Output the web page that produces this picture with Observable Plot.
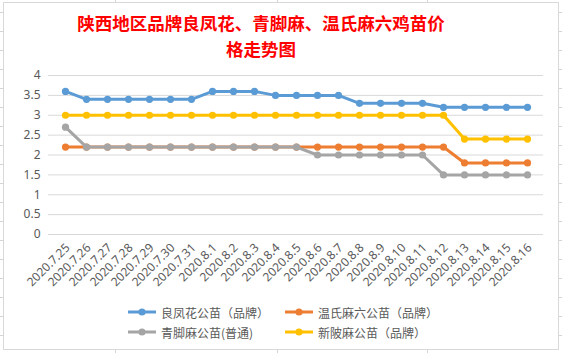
<!DOCTYPE html>
<html>
<head>
<meta charset="utf-8">
<script src="https://cdn.jsdelivr.net/npm/d3@7"></script>
<script src="https://cdn.jsdelivr.net/npm/@observablehq/plot@0.6"></script>
<style>
  html, body { margin: 0; padding: 0; }
  body {
    width: 562px; height: 353px; position: relative; overflow: hidden;
    background-color: #fff;
    background-image: repeating-linear-gradient(to bottom, transparent 0, transparent 12px, #d4d4d4 12px, #d4d4d4 13px, transparent 13px, transparent 19px);
    font-family: "Noto Sans CJK SC", "Noto Sans", sans-serif;
  }
  .vline { position: absolute; top: 0; width: 1px; height: 353px; background: #d4d4d4; }
  #frame {
    position: absolute; left: 3px; top: 2px; width: 556px; height: 348px;
    box-sizing: border-box; border: 1px solid #d9d9d9; background: #fff;
  }
  #wrap { position: absolute; left: 0; top: 0; width: 562px; }
  #title {
    width: 522px; height: 62px; box-sizing: border-box; padding-top: 10px;
    text-align: center; color: #ff0000; font-weight: bold; font-size: 17.5px;
    font-family: "Noto Sans CJK SC", sans-serif;
  }
  #title div { height: 25.5px; line-height: 25.5px; }
  #chart svg { display: block; }
  #legend { position: relative; height: 58px; font-size: 12px; color: #595959; }
  .item { position: absolute; display: flex; align-items: center; height: 16px; white-space: nowrap; }
  .item svg { margin-right: 5px; }
</style>
</head>
<body>
<div class="vline" style="left:115px"></div>
<div class="vline" style="left:277px"></div>
<div class="vline" style="left:427px"></div>
<div id="frame"></div>
<div id="wrap">
  <div id="title"><div>陕西地区品牌良凤花、青脚麻、温氏麻六鸡苗价</div><div>格走势图</div></div>
  <div id="chart"></div>
  <div id="legend"></div>
</div>
<script>
const dates = ["2020.7.25","2020.7.26","2020.7.27","2020.7.28","2020.7.29","2020.7.30","2020.7.31",
  "2020.8.1","2020.8.2","2020.8.3","2020.8.4","2020.8.5","2020.8.6","2020.8.7","2020.8.8","2020.8.9",
  "2020.8.10","2020.8.11","2020.8.12","2020.8.13","2020.8.14","2020.8.15","2020.8.16"];
const liangfenghua = [3.6,3.4,3.4,3.4,3.4,3.4,3.4,3.6,3.6,3.6,3.5,3.5,3.5,3.5,3.3,3.3,3.3,3.3,3.2,3.2,3.2,3.2,3.2];
const wenshi       = [2.2,2.2,2.2,2.2,2.2,2.2,2.2,2.2,2.2,2.2,2.2,2.2,2.2,2.2,2.2,2.2,2.2,2.2,2.2,1.8,1.8,1.8,1.8];
const qingjiao     = [2.7,2.2,2.2,2.2,2.2,2.2,2.2,2.2,2.2,2.2,2.2,2.2,2.0,2.0,2.0,2.0,2.0,2.0,1.5,1.5,1.5,1.5,1.5];
const xinpi        = [3.0,3.0,3.0,3.0,3.0,3.0,3.0,3.0,3.0,3.0,3.0,3.0,3.0,3.0,3.0,3.0,3.0,3.0,3.0,2.4,2.4,2.4,2.4];
const seriesNames  = ["良凤花公苗（品牌）","温氏麻六公苗（品牌）","青脚麻公苗(普通)","新陂麻公苗（品牌）"];
const seriesColors = ["#5b9bd5","#ed7d31","#a5a5a5","#ffc000"];
const yTicks = [0,0.5,1,1.5,2,2.5,3,3.5,4];

const seriesValues = [liangfenghua, wenshi, qingjiao, xinpi];
const seriesData = seriesValues.map((vals, i) => dates.map((d, j) => ({date: d, value: vals[j], series: seriesNames[i]})));

const marks = [
  Plot.ruleY(yTicks, {stroke: "#d9d9d9", strokeWidth: 1}),
  Plot.text(yTicks, {y: d => d, text: d => String(d), frameAnchor: "left", textAnchor: "end", dx: -8, fill: "#595959", fontSize: 12}),
  Plot.text(dates, {x: d => d, text: d => d, frameAnchor: "bottom", rotate: -45, textAnchor: "end", dx: 5, dy: 14, fill: "#595959", fontSize: 12})
];
seriesData.forEach((data, i) => {
  marks.push(Plot.line(data, {x: "date", y: "value", stroke: seriesColors[i], strokeWidth: 3, curve: "linear"}));
  marks.push(Plot.dot(data, {x: "date", y: "value", fill: seriesColors[i], r: 3.6, stroke: null}));
});

const chart = Plot.plot({
  width: 562, height: 233,
  marginTop: 13, marginBottom: 61, marginLeft: 48, marginRight: 19,
  style: {background: "transparent", fontFamily: "'Noto Sans', 'Noto Sans CJK SC', sans-serif", fontSize: "12px"},
  x: {type: "point", domain: dates, padding: 0.5, axis: null},
  y: {domain: [0, 4], axis: null},
  marks
});
document.getElementById("chart").appendChild(chart);

const legend = document.getElementById("legend");
const pos = [[128, 9], [285, 9], [128, 29], [285, 29]];
seriesNames.forEach((name, i) => {
  const el = document.createElement("div");
  el.className = "item";
  el.style.left = pos[i][0] + "px";
  el.style.top = pos[i][1] + "px";
  el.innerHTML = `<svg width="28" height="10"><line x1="0" y1="5" x2="28" y2="5" stroke="${seriesColors[i]}" stroke-width="3"/><circle cx="14" cy="5" r="3.6" fill="${seriesColors[i]}"/></svg><span>${name}</span>`;
  legend.appendChild(el);
});
</script>
</body>
</html>
